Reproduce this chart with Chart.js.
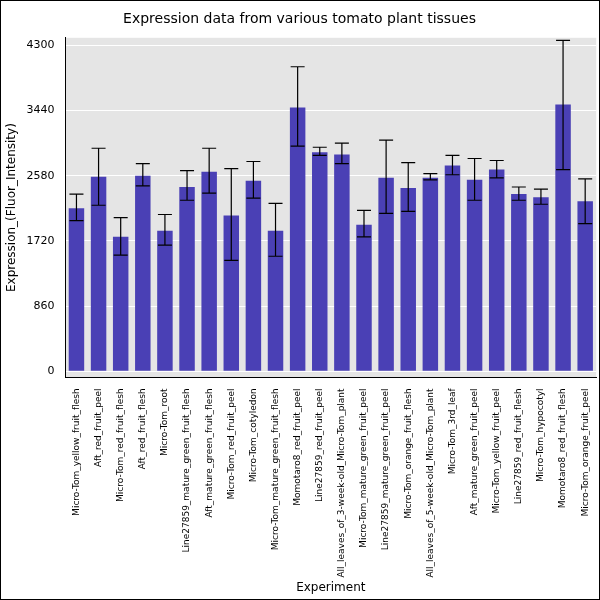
<!DOCTYPE html><html><head><script src="https://cdn.jsdelivr.net/npm/chart.js@4"></script>
<style>body{margin:0}#w{width:598px;height:598px;border:1px solid #000}</style></head><body><div id="w"><canvas id="c"></canvas></div>
<script>
const categories=["Micro-Tom_yellow_fruit_flesh","Aft_red_fruit_peel","Micro-Tom_red_fruit_flesh","Aft_red_fruit_flesh","Micro-Tom_root","Line27859_mature_green_fruit_flesh","Aft_mature_green_fruit_flesh","Micro-Tom_red_fruit_peel","Micro-Tom_cotyledon","Micro-Tom_mature_green_fruit_flesh","Momotaro8_red_fruit_peel","Line27859_red_fruit_peel","All_leaves_of_3-week-old_Micro-Tom_plant","Micro-Tom_mature_green_fruit_peel","Line27859_mature_green_fruit_peel","Micro-Tom_orange_fruit_flesh","All_leaves_of_5-week-old_Micro-Tom_plant","Micro-Tom_3rd_leaf","Aft_mature_green_fruit_peel","Micro-Tom_yellow_fruit_peel","Line27859_red_fruit_flesh","Micro-Tom_hypocotyl","Momotaro8_red_fruit_flesh","Micro-Tom_orange_fruit_peel"];
const values=[2150,2567,1774,2580,1854,2432,2634,2056,2513,1854,3480,2889,2862,1935,2553,2419,2553,2714,2526,2661,2338,2298,3521,2244];
const errHigh=[2338,2943,2029,2741,2069,2647,2943,2674,2768,2217,4018,2956,3010,2123,3051,2754,2607,2849,2808,2781,2432,2405,4367,2540];
const errLow=[1989,2191,1532,2446,1666,2257,2352,1465,2284,1518,2970,2849,2741,1774,2083,2110,2526,2593,2257,2553,2257,2204,2661,1948];
const yTicks=[0,860,1720,2580,3440,4300];
const bg={id:'bg',beforeDraw(c){const a=c.chartArea,x=c.ctx;x.save();x.fillStyle='#e5e5e5';x.fillRect(a.left,a.top,a.right-a.left,a.bottom-a.top);x.restore();}};
const eb={id:'eb',afterDatasetsDraw(c){const x=c.ctx,ys=c.scales.y,m=c.getDatasetMeta(0);x.save();x.strokeStyle='#000';x.lineWidth=1.2;
m.data.forEach((b,i)=>{const px=b.x,h=ys.getPixelForValue(errHigh[i]),l=ys.getPixelForValue(errLow[i]);x.beginPath();x.moveTo(px,h);x.lineTo(px,l);x.moveTo(px-7,h);x.lineTo(px+7,h);x.moveTo(px-7,l);x.lineTo(px+7,l);x.stroke();});x.restore();}};
new Chart(document.getElementById('c'),{type:'bar',data:{labels:categories,datasets:[{data:values,backgroundColor:'#4a40b5',barPercentage:0.7,categoryPercentage:1}]},
options:{responsive:true,maintainAspectRatio:false,animation:false,layout:{padding:{right:1,top:0,bottom:4}},
plugins:{legend:{display:false},title:{display:true,text:'Expression data from various tomato plant tissues',color:'#000',font:{size:14,family:'DejaVu Sans',weight:'normal'},padding:{top:10,bottom:10}}},
scales:{x:{grid:{display:false},border:{color:'#000'},ticks:{color:'#000',font:{size:9,family:'DejaVu Sans'},minRotation:90,maxRotation:90,autoSkip:false},title:{display:true,text:'Experiment',color:'#000',font:{size:12,family:'DejaVu Sans'},padding:0}},
y:{min:-80,max:4400,afterBuildTicks(s){s.ticks=yTicks.map(v=>({value:v}));},grid:{color:'#fff'},border:{color:'#000'},ticks:{color:'#000',font:{size:11,family:'DejaVu Sans'},callback:v=>String(v)},title:{display:true,text:'Expression_(Fluor_Intensity)',color:'#000',font:{size:12,family:'DejaVu Sans'}}}}},
plugins:[bg,eb]});
</script></body></html>
